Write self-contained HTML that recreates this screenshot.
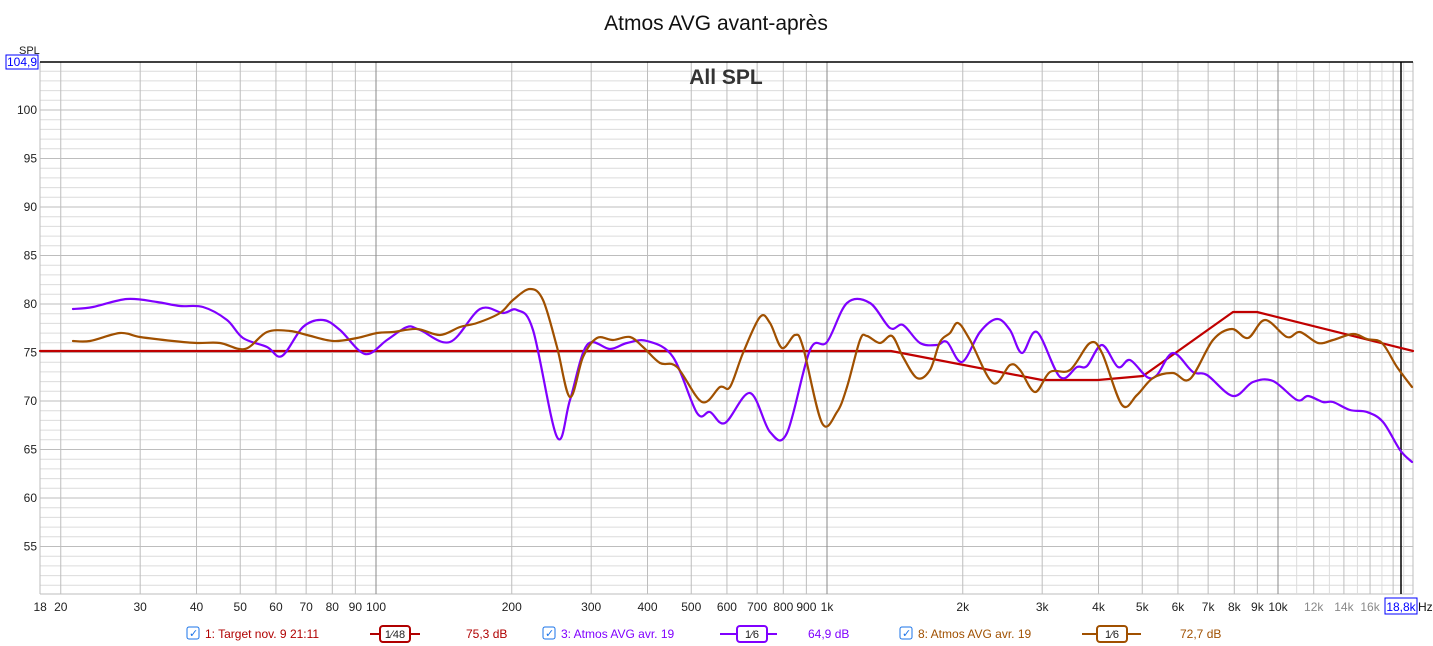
<!DOCTYPE html>
<html><head><meta charset="utf-8"><style>
body{margin:0;background:#fff;}
svg{display:block;font-family:"Liberation Sans",sans-serif;}
</style></head><body>
<svg id="s" width="1433" height="646" xmlns="http://www.w3.org/2000/svg">
<rect width="1433" height="646" fill="#fff"/>
<g id="grid"></g>
<text x="716" y="30" font-size="21" text-anchor="middle" fill="#111">Atmos AVG avant-après</text>
<text x="726" y="84" font-size="21" font-weight="bold" text-anchor="middle" fill="#333">All SPL</text>
<text x="19" y="54" font-size="11" fill="#222">SPL</text>
<rect x="6" y="55" width="32" height="14" fill="#fff" stroke="#00f" stroke-width="1"/>
<text x="22" y="66" font-size="12" text-anchor="middle" fill="#00f">104,9</text>
<line x1="40" y1="62" x2="1413" y2="62" stroke="#000" stroke-width="1.5"/>
<line x1="1401" y1="62" x2="1401" y2="594" stroke="#000" stroke-width="1.5"/>
<rect x="1385" y="598" width="32" height="16" fill="#fff" stroke="#00f"/>
<text x="1401" y="611" font-size="12" text-anchor="middle" fill="#00f">18,8k</text>
<text x="1418" y="611" font-size="12" fill="#111">Hz</text>
<g id="curves" fill="none" stroke-width="2.2" stroke-linejoin="round" stroke-linecap="round"></g>
<g font-size="12">
<rect x="187" y="627" width="12" height="12" rx="2" fill="#fff" stroke="#1a73e8"/><text x="189" y="637" font-size="11" fill="#1a73e8">✓</text>
<text x="205" y="638" fill="#b00000">1: Target nov. 9 21:11</text>
<line x1="370" y1="634" x2="420" y2="634" stroke="#b00000" stroke-width="2"/>
<rect x="380" y="626" width="30" height="16" rx="3" fill="#fff" stroke="#b00000" stroke-width="2"/>
<text x="395" y="638" text-anchor="middle" fill="#222" font-size="11">1⁄48</text>
<text x="466" y="638" fill="#b00000">75,3 dB</text>
<rect x="543" y="627" width="12" height="12" rx="2" fill="#fff" stroke="#1a73e8"/><text x="545" y="637" font-size="11" fill="#1a73e8">✓</text>
<text x="561" y="638" fill="#8000ff">3: Atmos AVG avr. 19</text>
<line x1="720" y1="634" x2="777" y2="634" stroke="#8000ff" stroke-width="2"/>
<rect x="737" y="626" width="30" height="16" rx="3" fill="#fff" stroke="#8000ff" stroke-width="2"/>
<text x="752" y="638" text-anchor="middle" fill="#222" font-size="11">1⁄6</text>
<text x="808" y="638" fill="#8000ff">64,9 dB</text>
<rect x="900" y="627" width="12" height="12" rx="2" fill="#fff" stroke="#1a73e8"/><text x="902" y="637" font-size="11" fill="#1a73e8">✓</text>
<text x="918" y="638" fill="#a05000">8: Atmos AVG avr. 19</text>
<line x1="1082" y1="634" x2="1141" y2="634" stroke="#a05000" stroke-width="2"/>
<rect x="1097" y="626" width="30" height="16" rx="3" fill="#fff" stroke="#a05000" stroke-width="2"/>
<text x="1112" y="638" text-anchor="middle" fill="#222" font-size="11">1⁄6</text>
<text x="1180" y="638" fill="#a05000">72,7 dB</text>
</g>
</svg>
<script>
var NS="http://www.w3.org/2000/svg";
var g=document.getElementById("grid");
function el(t,a,p){var e=document.createElementNS(NS,t);for(var k in a)e.setAttribute(k,a[k]);(p||g).appendChild(e);return e;}
function fx(f){return 376+Math.log10(f/100)*451;}
function dy(d){return 110+(100-d)*9.7;}
var L=40,R=1413,T=62,B=594;
for(var d=51;d<=104;d++){var y=dy(d);el("line",{x1:L,x2:R,y1:y,y2:y,stroke:d%5==0?"#bdbdbd":"#dcdcdc","stroke-width":1});
 if(d%5==0&&d>=55){var t=el("text",{x:37,y:y+4,"font-size":12,"text-anchor":"end",fill:"#222"});t.textContent=d;}}
el("line",{x1:L,x2:R,y1:B,y2:B,stroke:"#bdbdbd"});
el("line",{x1:L,x2:L,y1:T,y2:B,stroke:"#bdbdbd"});
el("line",{x1:R,x2:R,y1:T,y2:B,stroke:"#bdbdbd"});
var fr=[];for(var f=20;f<100;f+=10)fr.push(f);for(f=100;f<1000;f+=100)fr.push(f);for(f=1000;f<10000;f+=1000)fr.push(f);for(f=10000;f<=19000;f+=1000)fr.push(f);
fr.forEach(function(f){var x=fx(f);var maj=(f==100||f==1000||f==10000);
 el("line",{x1:x,x2:x,y1:T,y2:B,stroke:maj?"#8a8a8a":(f>10000&&f%2000)?"#dcdcdc":"#bdbdbd","stroke-width":1});});
var labs=[[18,"18"],[20,"20"],[30,"30"],[40,"40"],[50,"50"],[60,"60"],[70,"70"],[80,"80"],[90,"90"],[100,"100"],[200,"200"],[300,"300"],[400,"400"],[500,"500"],[600,"600"],[700,"700"],[800,"800"],[900,"900"],[1000,"1k"],[2000,"2k"],[3000,"3k"],[4000,"4k"],[5000,"5k"],[6000,"6k"],[7000,"7k"],[8000,"8k"],[9000,"9k"],[10000,"10k"],[12000,"12k"],[14000,"14k"],[16000,"16k"]];
labs.forEach(function(l){var t=el("text",{x:fx(l[0]),y:611,"font-size":12,"text-anchor":"middle",fill:l[0]>10000?"#888":"#222"});t.textContent=l[1];});
function smooth(p){var s="M"+p[0][0]+","+p[0][1];for(var i=0;i<p.length-1;i++){var p0=p[i-1]||p[i],p1=p[i],p2=p[i+1],p3=p[i+2]||p2;
 s+=" C"+(p1[0]+(p2[0]-p0[0])/6).toFixed(1)+","+(p1[1]+(p2[1]-p0[1])/6).toFixed(1)+" "+(p2[0]-(p3[0]-p1[0])/6).toFixed(1)+","+(p2[1]-(p3[1]-p1[1])/6).toFixed(1)+" "+p2[0]+","+p2[1];}return s;}
var cg=document.getElementById("curves");
var orange=[[73,341],[90,341],[120,333],[140,337],[173,341],[197,343],[220,343],[245,349],[267,332],[290,331],[307,335],[333,341],[357,338],[377,333],[393,332],[417,329],[440,335],[460,327],[477,323],[500,313],[513,300],[530,289],[543,300],[557,347],[570,397],[583,357],[597,338],[613,340],[630,337],[643,347],[660,363],[677,367],[702,402],[720,387],[730,387],[743,353],[760,317],[770,323],[782,348],[795,335],[803,347],[822,423],[837,412],[847,387],[860,340],[867,336],[880,343],[892,336],[903,357],[917,378],[930,370],[940,342],[950,333],[958,323],[970,340],[993,383],[1010,365],[1020,370],[1035,392],[1050,372],[1070,370],[1090,343],[1102,353],[1122,405],[1137,395],[1153,378],[1173,373],[1190,379],[1213,340],[1232,329],[1248,338],[1265,320],[1287,337],[1300,332],[1318,343],[1333,340],[1353,334],[1367,339],[1382,343],[1397,367],[1412,387]];
var purple=[[73,309],[93,307],[127,299],[157,302],[180,306],[203,307],[227,320],[243,338],[267,347],[282,356],[303,327],[323,320],[340,330],[365,354],[387,340],[407,327],[420,330],[450,342],[480,309],[503,313],[517,310],[533,330],[557,437],[570,400],[587,345],[610,349],[627,343],[647,341],[673,357],[697,413],[710,412],[725,423],[750,393],[770,432],[787,433],[810,350],[827,342],[847,303],[870,303],[890,328],[903,325],[920,343],[937,345],[947,342],[962,362],[980,332],[997,319],[1010,330],[1022,353],[1037,332],[1060,377],[1077,367],[1087,366],[1102,345],[1118,367],[1130,360],[1147,377],[1157,375],[1173,353],[1193,372],[1207,375],[1233,396],[1253,382],[1273,381],[1297,400],[1308,396],[1323,402],[1333,402],[1350,410],[1367,412],[1383,422],[1400,450],[1412,462]];
el("path",{d:"M40,351 L891,351 L1042,380 L1098,380 L1143,376 L1233,312 L1257,312 L1413,351",stroke:"#c00000"},cg);
el("path",{d:smooth(purple),stroke:"#8000ff"},cg);
el("path",{d:smooth(orange),stroke:"#a05000"},cg);
</script>
</body></html>
